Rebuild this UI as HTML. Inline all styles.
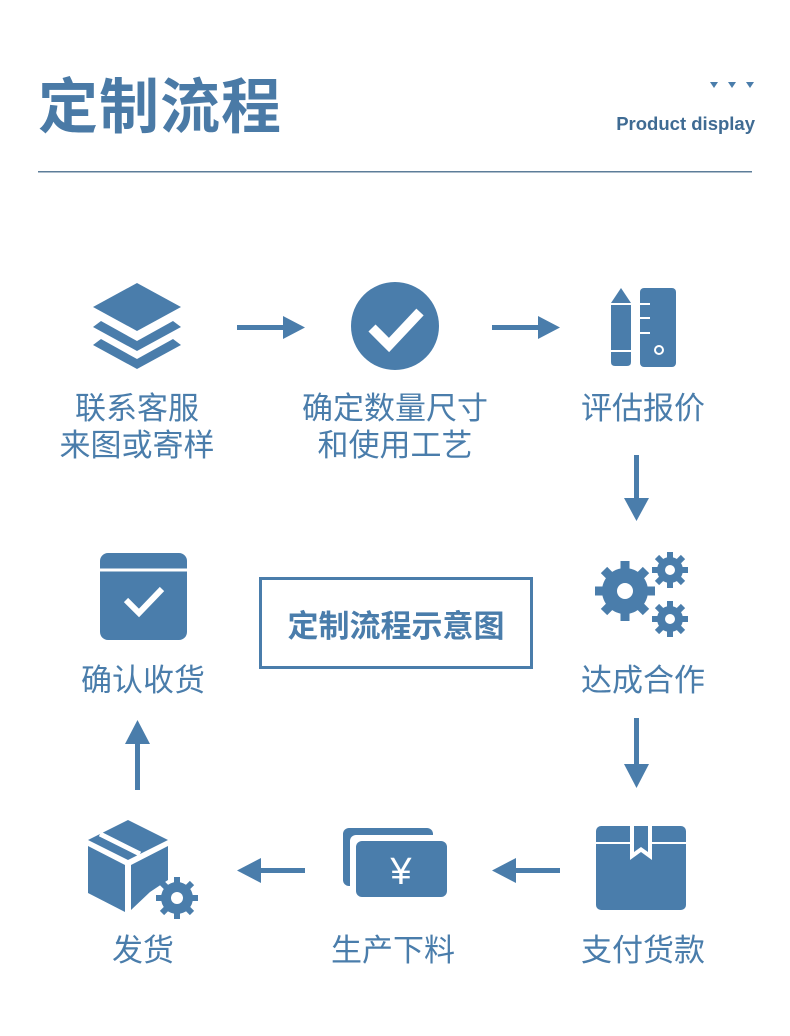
<!DOCTYPE html>
<html><head><meta charset="utf-8"><style>
body{margin:0;width:790px;height:1036px;background:#fff;position:relative;overflow:hidden;font-family:"Liberation Sans","Noto Sans CJK SC",sans-serif;color:#4a7dab}
.t{position:absolute;white-space:nowrap;text-align:center;transform:translateX(-50%);font-size:31px;line-height:37px}
svg{position:absolute;left:0;top:0}
</style></head><body>
<div style="position:absolute;left:38px;top:68px;font-size:60px;font-weight:bold;color:#4a7aa6;letter-spacing:1px;line-height:80px">定制流程</div>
<div style="position:absolute;right:35px;top:113px;font-size:18.5px;font-weight:bold;color:#3f6b93">Product display</div>
<div class="t" style="left:137px;top:390px">联系客服<br>来图或寄样</div>
<div class="t" style="left:395px;top:390px">确定数量尺寸<br>和使用工艺</div>
<div class="t" style="left:643px;top:390px">评估报价</div>
<div class="t" style="left:143px;top:662px">确认收货</div>
<div class="t" style="left:643px;top:662px">达成合作</div>
<div class="t" style="left:143px;top:932px">发货</div>
<div class="t" style="left:393px;top:932px">生产下料</div>
<div class="t" style="left:643px;top:932px">支付货款</div>
<div style="position:absolute;left:259px;top:577px;width:268px;height:86px;border:3px solid #4a7dab;display:flex;align-items:center;justify-content:center;font-size:31px;font-weight:bold">定制流程示意图</div>
<svg width="790" height="1036" fill="#4a7dab">
<polygon points="710,82 718,82 714,88"/><polygon points="728,82 736,82 732,88"/><polygon points="746,82 754,82 750,88"/>
<rect x="38" y="171" width="714" height="1.5" fill="#5d7d99"/>
<!-- layers -->
<path d="M137 283 L181 307 L137 331 L93 307Z"/>
<path d="M93 327 L101 321 L137 341 L173 321 L181 327 L137 351Z"/>
<path d="M93 345 L101 339 L137 359 L173 339 L181 345 L137 369Z"/>
<!-- arrows row1 -->
<rect x="237" y="325" width="48" height="5"/><polygon points="283,316 305,327.5 283,339"/>
<rect x="492" y="325" width="48" height="5"/><polygon points="538,316 560,327.5 538,339"/>
<!-- check -->
<circle cx="395" cy="326" r="44"/>
<path d="M372 328 L389 345 L420 312" stroke="#fff" stroke-width="10" fill="none"/>
<!-- pencil ruler -->
<path d="M611 303 L621 288 L631 303 L631 362 Q631 366 627 366 L615 366 Q611 366 611 362Z"/>
<rect x="611" y="303" width="20" height="2" fill="#fff"/><rect x="611" y="350" width="20" height="2" fill="#fff"/>
<rect x="640" y="288" width="36" height="79" rx="4"/>
<rect x="640" y="303" width="10" height="2" fill="#fff"/><rect x="640" y="317" width="10" height="2" fill="#fff"/><rect x="640" y="332" width="10" height="2" fill="#fff"/>
<circle cx="659" cy="350" r="4" fill="none" stroke="#fff" stroke-width="2"/>
<!-- down arrows -->
<rect x="634" y="455" width="5" height="45"/><polygon points="624,498 649,498 636.5,521"/>
<rect x="634" y="718" width="5" height="48"/><polygon points="624,764 649,764 636.5,788"/>
<!-- up arrow -->
<rect x="135" y="742" width="5" height="48"/><polygon points="125,744 150,744 137.5,720"/>
<!-- left arrows -->
<rect x="259" y="868" width="46" height="5"/><polygon points="261,858 237,870.5 261,883"/>
<rect x="514" y="868" width="46" height="5"/><polygon points="516,858 492,870.5 516,883"/>
<!-- confirm box -->
<rect x="100" y="553" width="87" height="87" rx="8"/>
<path d="M100 570 L187 570" stroke="#fff" stroke-width="3"/>
<path d="M126 600 L139 613 L162 589" stroke="#fff" stroke-width="6" fill="none"/>
<!-- gears -->
<g>
<circle cx="625" cy="591" r="23"/>
<g stroke="#4a7dab" stroke-width="9"><line x1="625" y1="561" x2="625" y2="621"/><line x1="595" y1="591" x2="655" y2="591"/><line x1="604" y1="570" x2="646" y2="612"/><line x1="646" y1="570" x2="604" y2="612"/></g>
<circle cx="625" cy="591" r="8" fill="#fff"/>
<circle cx="670" cy="570" r="13"/>
<g stroke="#4a7dab" stroke-width="6"><line x1="670" y1="552" x2="670" y2="588"/><line x1="652" y1="570" x2="688" y2="570"/><line x1="657" y1="557" x2="683" y2="583"/><line x1="683" y1="557" x2="657" y2="583"/></g>
<circle cx="670" cy="570" r="5" fill="#fff"/>
<circle cx="670" cy="619" r="13"/>
<g stroke="#4a7dab" stroke-width="6"><line x1="670" y1="601" x2="670" y2="637"/><line x1="652" y1="619" x2="688" y2="619"/><line x1="657" y1="606" x2="683" y2="632"/><line x1="683" y1="606" x2="657" y2="632"/></g>
<circle cx="670" cy="619" r="5" fill="#fff"/>
</g>
<!-- package -->
<path d="M88 840 L128 820 L168 840 L128 860Z"/>
<path d="M88 846 L125 865 L125 912 L88 893Z"/>
<path d="M131 865 L168 846 L168 880 L150 892 L131 910Z"/>
<path d="M100 834 L140 854" stroke="#fff" stroke-width="5"/>
<circle cx="177" cy="898" r="16"/>
<g stroke="#4a7dab" stroke-width="6"><line x1="177" y1="877" x2="177" y2="919"/><line x1="156" y1="898" x2="198" y2="898"/><line x1="162" y1="883" x2="192" y2="913"/><line x1="192" y1="883" x2="162" y2="913"/></g>
<circle cx="177" cy="898" r="6" fill="#fff"/>
<!-- money -->
<rect x="343" y="828" width="90" height="58" rx="6"/>
<rect x="350" y="835" width="95" height="62" rx="6" fill="#fff"/>
<rect x="356" y="841" width="91" height="56" rx="6"/>
<text x="401" y="884" font-size="38" fill="#fff" text-anchor="middle" font-family="Liberation Sans,sans-serif">¥</text>
<!-- box -->
<rect x="596" y="826" width="90" height="84" rx="5"/>
<path d="M596 843 L686 843" stroke="#fff" stroke-width="2"/>
<path d="M630 826 L630 860 L641 852 L652 860 L652 826Z" fill="#fff"/>
<path d="M634 826 L634 852 L641 847 L648 852 L648 826Z"/>
</svg>
</body></html>
